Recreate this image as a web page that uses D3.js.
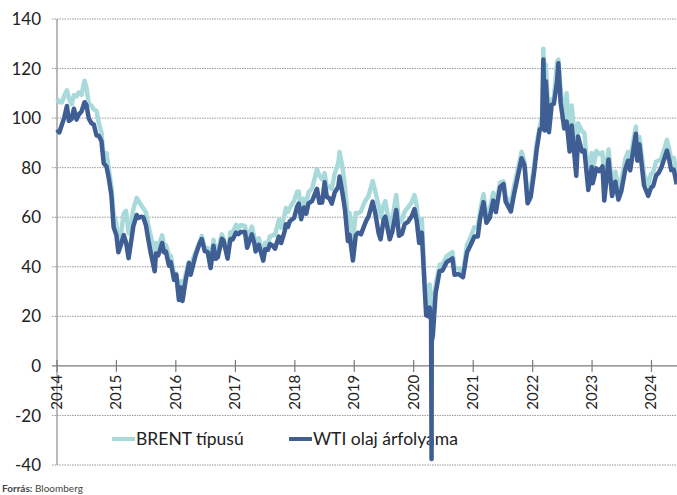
<!DOCTYPE html>
<html><head><meta charset="utf-8">
<script src="https://cdn.jsdelivr.net/npm/d3@7"></script>
<style>
body{margin:0;background:#fff;}
svg{display:block;font-family:"Lato","Open Sans",sans-serif;}
</style></head>
<body><svg id="c" width="677" height="495"></svg>
<script>
const dates = [
"2014-01-02","2014-01-15","2014-02-01","2014-02-15","2014-03-03","2014-03-15","2014-04-01","2014-04-15","2014-05-01","2014-05-15","2014-06-01","2014-06-19","2014-07-01","2014-07-15","2014-08-01","2014-08-15","2014-09-01","2014-09-15","2014-10-01","2014-10-15","2014-11-01","2014-11-15","2014-12-01","2014-12-15",
"2015-01-01","2015-01-13","2015-02-01","2015-02-15","2015-03-01","2015-03-17","2015-04-01","2015-04-15","2015-05-06","2015-05-15","2015-06-01","2015-06-15","2015-07-01","2015-07-15","2015-08-01","2015-08-24","2015-09-01","2015-09-15","2015-10-09","2015-10-20","2015-11-01","2015-11-20","2015-12-01","2015-12-21",
"2016-01-04","2016-01-20","2016-02-01","2016-02-11","2016-03-01","2016-03-22","2016-04-01","2016-04-15","2016-05-01","2016-05-26","2016-06-08","2016-06-27","2016-07-15","2016-08-02","2016-08-19","2016-09-01","2016-09-15","2016-10-10","2016-10-20","2016-11-14","2016-12-01","2016-12-15",
"2017-01-05","2017-01-20","2017-02-01","2017-02-20","2017-03-01","2017-03-14","2017-04-12","2017-04-28","2017-05-05","2017-05-25","2017-06-21","2017-07-03","2017-07-20","2017-08-01","2017-08-18","2017-09-01","2017-09-25","2017-10-09","2017-10-30","2017-11-07","2017-11-20","2017-12-01","2017-12-28",
"2018-01-15","2018-01-25","2018-02-09","2018-02-26","2018-03-12","2018-03-26","2018-04-17","2018-05-17","2018-06-01","2018-06-18","2018-07-03","2018-07-17","2018-08-01","2018-08-16","2018-09-03","2018-09-25","2018-10-03","2018-10-22","2018-11-05","2018-11-23","2018-12-03","2018-12-24",
"2019-01-10","2019-01-25","2019-02-12","2019-02-25","2019-03-15","2019-03-29","2019-04-24","2019-05-10","2019-05-31","2019-06-12","2019-07-01","2019-07-11","2019-08-07","2019-08-23","2019-09-16","2019-10-03","2019-10-21","2019-11-07","2019-11-25","2019-12-20",
"2020-01-06","2020-01-20","2020-02-04","2020-02-20","2020-03-09","2020-03-18","2020-03-30","2020-04-08","2020-04-17","2020-04-20","2020-04-21","2020-04-28","2020-05-15","2020-06-08","2020-06-26","2020-07-22","2020-08-26","2020-09-08","2020-10-02","2020-10-30","2020-11-24","2020-12-18",
"2021-01-08","2021-01-29","2021-02-12","2021-03-05","2021-03-23","2021-04-12","2021-05-04","2021-05-20","2021-06-15","2021-07-06","2021-07-19","2021-08-20","2021-09-10","2021-09-28","2021-10-25","2021-11-12","2021-12-01","2021-12-20",
"2022-01-10","2022-01-26","2022-02-14","2022-02-28","2022-03-08","2022-03-16","2022-03-23","2022-04-11","2022-04-28","2022-05-11","2022-05-31","2022-06-08","2022-06-22","2022-07-14","2022-07-29","2022-08-16","2022-08-29","2022-09-26","2022-10-07","2022-10-31","2022-11-15","2022-12-09","2022-12-30",
"2023-01-05","2023-01-27","2023-02-15","2023-03-06","2023-03-17","2023-04-12","2023-05-04","2023-05-24","2023-06-12","2023-06-30","2023-07-25","2023-08-10","2023-08-23","2023-09-27","2023-10-06","2023-10-19","2023-11-16","2023-12-12","2023-12-28",
"2024-01-12","2024-01-29","2024-02-15","2024-03-01","2024-03-19","2024-04-05","2024-04-19","2024-05-01","2024-05-17","2024-06-04"
];
const brent = [
107.8,106.4,106.4,109.1,111.2,108.0,105.6,109.3,108.8,110.4,109.4,115.1,112.3,105.9,105.0,103.5,102.8,98.0,94.2,83.8,85.9,79.4,72.5,61.1,
57.3,46.6,54.8,61.5,62.6,53.5,57.1,63.3,67.8,66.8,64.9,63.6,62.0,57.1,52.2,45.5,49.6,47.8,52.7,48.6,48.8,44.7,44.4,36.4,
37.2,27.9,34.2,30.1,36.8,41.8,38.7,43.1,45.8,49.6,52.5,47.2,47.6,41.8,50.9,46.5,46.6,53.1,51.4,44.4,53.9,53.9,
56.9,55.5,56.8,56.7,56.4,51.0,56.2,51.7,49.1,51.5,44.8,49.7,49.3,52.3,52.7,52.8,59.0,55.8,60.9,63.7,62.2,63.7,66.7,
70.3,70.4,62.8,67.5,64.9,70.1,71.6,79.3,76.8,75.3,77.8,71.8,72.4,71.4,77.6,81.9,86.3,79.8,72.2,58.8,61.7,50.5,
61.7,61.6,62.4,64.8,67.2,68.4,74.6,70.6,64.5,60.0,65.1,66.5,56.2,59.3,69.0,57.7,58.9,62.3,63.7,66.1,
68.9,64.6,54.0,59.3,34.4,25.0,22.8,32.8,28.1,25.6,19.3,20.5,32.5,40.8,41.0,44.3,45.9,39.8,39.3,37.9,48.9,52.3,
56.0,55.9,62.4,69.4,60.8,63.3,69.9,65.1,74.0,74.5,68.6,65.2,72.9,78.1,86.4,82.2,68.9,71.5,
80.9,90.0,96.5,101.0,128.0,98.0,121.6,98.5,107.6,107.5,122.8,123.6,111.7,99.1,110.0,92.3,105.1,84.1,97.9,94.8,93.9,76.1,85.9,
78.7,86.7,85.4,86.2,73.0,87.3,72.5,78.4,71.8,74.9,83.6,86.4,83.2,96.6,84.6,92.4,77.4,73.2,77.2,
78.3,82.4,82.9,83.6,87.4,91.2,87.3,83.4,84.0,77.5
];
const wti = [
95.4,94.2,97.5,100.3,104.9,98.9,99.7,103.8,99.4,101.5,102.7,106.4,105.3,99.9,97.9,97.4,93.0,92.9,90.7,81.8,80.5,75.8,69.0,55.9,
52.7,45.9,49.6,52.8,49.8,43.5,50.1,56.4,60.9,59.7,60.2,60.0,56.9,51.4,45.2,38.2,45.4,44.6,49.6,45.9,46.1,40.4,41.9,34.7,
36.8,26.6,31.6,26.2,34.4,41.5,36.8,40.4,44.6,49.5,51.2,46.3,45.9,39.5,48.5,43.2,43.9,51.3,50.6,43.3,51.1,51.0,
53.8,53.2,54.0,54.0,54.0,47.7,53.1,49.3,46.2,48.9,42.5,47.1,46.9,49.2,48.5,47.3,52.2,49.6,54.2,57.2,56.1,58.4,59.8,
64.3,65.5,59.2,63.9,61.4,65.6,66.5,71.5,65.8,65.9,74.1,68.1,67.7,65.5,69.9,72.3,76.4,69.2,63.1,50.4,53.0,42.5,
52.6,53.7,53.1,55.5,58.5,60.1,66.3,61.7,53.5,51.1,59.1,60.2,51.1,54.2,62.9,52.5,53.3,57.2,58.0,60.4,
63.3,58.5,49.6,53.8,31.1,20.4,20.1,23.6,18.3,-37.6,10.0,12.3,29.4,38.2,38.5,41.9,43.4,36.8,37.1,35.8,45.9,49.1,
52.2,52.2,59.5,66.1,57.8,59.7,66.7,62.1,72.1,73.4,66.4,62.3,69.7,75.3,83.8,80.8,65.6,68.2,
78.2,87.4,95.5,95.7,123.7,95.0,114.9,94.3,105.4,105.7,114.7,122.1,106.2,95.8,98.6,86.5,97.0,76.7,92.6,86.5,86.9,71.0,80.3,
73.7,79.7,78.6,80.5,66.7,83.3,68.6,74.3,67.1,70.6,79.6,82.8,78.9,93.7,82.8,89.4,72.9,68.6,71.8,
72.7,76.8,78.0,80.0,83.5,86.9,83.1,79.0,79.2,73.3
];
const yTicks = [-40,-20,0,20,40,60,80,100,120,140];
const xYears = ["2014","2015","2016","2017","2018","2019","2020","2021","2022","2023","2024"];
const seriesNames = ["BRENT típusú","WTI olaj árfolyama"];
const colors = ["#a9dadb","#3e5e94"];

const svg = d3.select("#c");
const parse = d3.timeParse("%Y-%m-%d");
const X0 = 57, YW = 59.46;
const x = d3.scaleTime().domain([parse("2014-01-01"), parse("2025-01-01")]).range([X0, X0 + 11*YW]);
const y = d3.scaleLinear().domain([-40,140]).range([465,19]);
const right = 677;

// gridlines
svg.append("g").selectAll("line").data(yTicks.filter(d=>d!==0)).join("line")
  .attr("x1",52).attr("x2",right).attr("y1",d=>y(d)).attr("y2",d=>y(d))
  .attr("stroke","#9a9a9a").attr("stroke-width",1).attr("stroke-dasharray","1.5,1");
// y axis line
svg.append("line").attr("x1",X0).attr("x2",X0).attr("y1",y(140)).attr("y2",y(-40))
  .attr("stroke","#8a8a8a").attr("stroke-width",1.2);
// zero line
svg.append("line").attr("x1",52).attr("x2",right).attr("y1",y(0)).attr("y2",y(0))
  .attr("stroke","#7a7a7a").attr("stroke-width",1.2);
// y labels
svg.append("g").selectAll("text").data(yTicks).join("text")
  .attr("x",41).attr("y",d=>y(d)).attr("dy","0.36em").attr("text-anchor","end")
  .attr("font-size",17).attr("fill","#222").text(d=>d);
// x ticks and labels
const yr = xYears.map(s=>parse(s+"-01-01"));
svg.append("g").selectAll("line").data(yr).join("line")
  .attr("x1",d=>x(d)).attr("x2",d=>x(d)).attr("y1",y(0)-6).attr("y2",y(0)+6)
  .attr("stroke","#7a7a7a").attr("stroke-width",1.2);
svg.append("g").selectAll("text").data(xYears).join("text")
  .attr("transform",(d,i)=>`translate(${x(yr[i])+5},${y(0)+9}) rotate(-90)`)
  .attr("text-anchor","end").attr("font-size",15).attr("fill","#222").text(d=>d);

// legend
const lg = svg.append("g");
const lx = [112, 289];
seriesNames.forEach((n,i)=>{
  lg.append("line").attr("x1",lx[i]).attr("x2",lx[i]+23).attr("y1",439).attr("y2",439)
    .attr("stroke",colors[i]).attr("stroke-width",4);
  lg.append("text").attr("x",lx[i]+24).attr("y",439).attr("dy","0.36em")
    .attr("font-size",17.5).attr("fill","#222").text(n);
});

// lines
const pts = dates.map(parse);
const line = vals => d3.line().x((d,i)=>x(pts[i])).y(d=>y(d))(vals);
svg.append("path").attr("d",line(brent)).attr("fill","none").attr("stroke",colors[0])
  .attr("stroke-width",4.5).attr("stroke-linejoin","round");
svg.append("path").attr("d",line(wti)).attr("fill","none").attr("stroke",colors[1])
  .attr("stroke-width",4.5).attr("stroke-linejoin","round");

// source
const src = svg.append("text").attr("x",2).attr("y",492).attr("font-size",10).attr("fill","#444");
src.append("tspan").attr("font-weight","bold").text("Forrás:");
src.append("tspan").text(" Bloomberg");
</script></body></html>
